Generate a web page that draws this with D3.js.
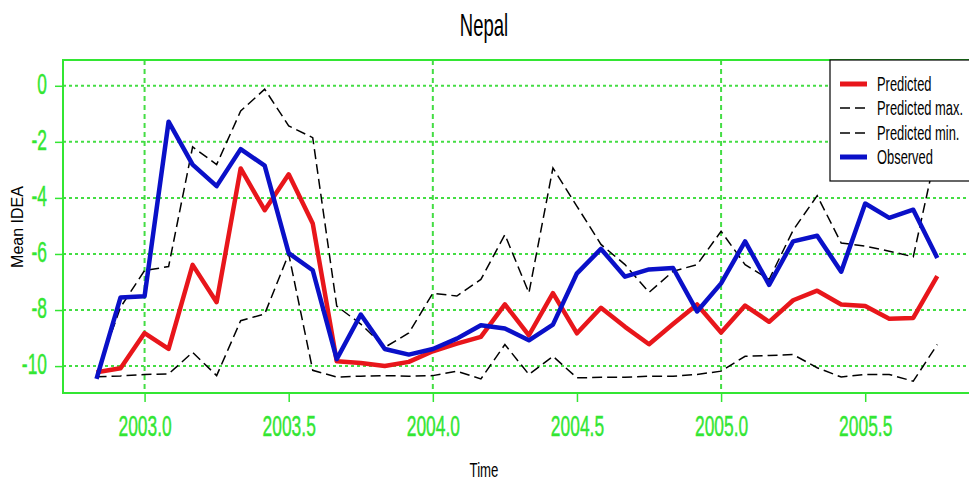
<!DOCTYPE html>
<html>
<head>
<meta charset="utf-8">
<script src="https://cdn.jsdelivr.net/npm/d3@7"></script>
<style>
  html, body { margin: 0; padding: 0; background: #fff; }
  svg { display: block; }
  text { font-family: "Liberation Sans", Arial, Helvetica, sans-serif; }
</style>
</head>
<body>
<svg id="chart" width="969" height="481"></svg>
<script>
// Monthly series, Nov 2002 – Oct 2005
const startYear = 2002, startMonth = 11, frequency = 12;

const observed = [-10.46, -7.55, -7.51, -1.28, -2.81, -3.58, -2.26, -2.85, -5.97, -6.58,
  -9.75, -8.16, -9.39, -9.59, -9.39, -9.02, -8.54, -8.66, -9.08, -8.52,
  -6.69, -5.82, -6.81, -6.55, -6.50, -8.05, -7.05, -5.55, -7.10, -5.55,
  -5.35, -6.63, -4.20, -4.71, -4.42, -6.14];

const predicted = [-10.22, -10.08, -8.82, -9.39, -6.39, -7.72, -2.95, -4.44, -3.16, -4.91,
  -9.83, -9.89, -10.00, -9.85, -9.47, -9.20, -8.96, -7.80, -8.90, -7.40,
  -8.83, -7.92, -8.60, -9.22, -8.50, -7.80, -8.80, -7.84, -8.42, -7.65,
  -7.31, -7.80, -7.86, -8.31, -8.28, -6.79];

const predictedMax = [-10.30, -7.90, -6.59, -6.45, -2.18, -2.81, -0.90, -0.12, -1.43, -1.85,
  -7.86, -8.50, -9.33, -8.82, -7.40, -7.50, -6.91, -5.31, -7.39, -2.93,
  -4.30, -5.66, -6.38, -7.37, -6.62, -6.38, -5.19, -6.38, -6.91, -5.15,
  -3.92, -5.61, -5.72, -5.90, -6.10, -2.20];

const predictedMin = [-10.38, -10.35, -10.30, -10.28, -9.51, -10.34, -8.38, -8.14, -6.00, -10.15,
  -10.39, -10.36, -10.34, -10.36, -10.34, -10.18, -10.46, -9.23, -10.30, -9.65,
  -10.42, -10.40, -10.40, -10.36, -10.36, -10.30, -10.18, -9.65, -9.62, -9.59,
  -10.06, -10.39, -10.30, -10.30, -10.54, -9.23];

const xTicks = [2003.0, 2003.5, 2004.0, 2004.5, 2005.0, 2005.5];
const xGrid = [2003, 2004, 2005];
const yTicks = [0, -2, -4, -6, -8, -10];

const legendLabels = ["Predicted", "Predicted max.", "Predicted min.", "Observed"];

const time = observed.map((_, i) => startYear + (startMonth - 1 + i) / frequency);

const GREEN = "#33e633";
const GRID = "#44dd44";
const RED = "#e8161b";
const BLUE = "#0a10c8";

const svg = d3.select("#chart");

const x = d3.scaleLinear().domain([2002.717, 2005.867]).range([63, 971]);
const y = d3.scaleLinear().domain([-10.96, 0.92]).range([393, 60]);

// grid
svg.append("g").selectAll("line").data(yTicks).join("line")
  .attr("x1", 63).attr("x2", 971)
  .attr("y1", d => y(d)).attr("y2", d => y(d))
  .attr("stroke", GRID).attr("stroke-width", 2).attr("stroke-dasharray", "3,3");
svg.append("g").selectAll("line").data(xGrid).join("line")
  .attr("x1", d => x(d)).attr("x2", d => x(d))
  .attr("y1", 60).attr("y2", 393)
  .attr("stroke", GRID).attr("stroke-width", 2).attr("stroke-dasharray", "5,4");

// series
const line = vals => d3.line().x((d, i) => x(time[i])).y(d => y(d))(vals);

svg.append("path").attr("d", line(predicted))
  .attr("fill", "none").attr("stroke", RED).attr("stroke-width", 4.5).attr("stroke-linejoin", "round");
svg.append("path").attr("d", line(predictedMax))
  .attr("fill", "none").attr("stroke", "#000").attr("stroke-width", 1.5).attr("stroke-dasharray", "10,5");
svg.append("path").attr("d", line(predictedMin))
  .attr("fill", "none").attr("stroke", "#000").attr("stroke-width", 1.5).attr("stroke-dasharray", "10,5");
svg.append("path").attr("d", line(observed))
  .attr("fill", "none").attr("stroke", BLUE).attr("stroke-width", 4.5).attr("stroke-linejoin", "round");

// axes
const xAxis = svg.append("g").attr("transform", "translate(0,393)")
  .call(d3.axisBottom(x).tickValues(xTicks).tickSize(9).tickFormat(d3.format(".1f")));
const yAxis = svg.append("g").attr("transform", "translate(63,0)")
  .call(d3.axisLeft(y).tickValues(yTicks).tickSize(8).tickFormat(d => d));

[xAxis, yAxis].forEach(a => {
  a.select(".domain").remove();
  a.selectAll(".tick line").attr("stroke", GREEN).attr("stroke-width", 1.5);
  a.selectAll(".tick text").attr("fill", GREEN).attr("font-size", 20)
    .attr("font-family", "'Liberation Sans', Arial, sans-serif")
    .attr("stroke", GREEN).attr("stroke-width", 0.3);
});
xAxis.selectAll(".tick text")
  .attr("y", 0).attr("dy", 0)
  .attr("transform", "translate(0,43) scale(0.87,1.45)");
yAxis.selectAll(".tick text")
  .attr("x", 0).attr("dy", 0)
  .attr("transform", "translate(-16,7.5) scale(0.87,1.45)");

// plot frame
svg.append("rect").attr("x", 63).attr("y", 60).attr("width", 908).attr("height", 333)
  .attr("fill", "none").attr("stroke", GREEN).attr("stroke-width", 2);

// title and axis labels
svg.append("text").attr("transform", "translate(484,36) scale(0.88,1.45)")
  .attr("text-anchor", "middle").attr("font-size", 21).text("Nepal");
svg.append("text").attr("transform", "translate(484,477) scale(0.88,1.4)")
  .attr("text-anchor", "middle").attr("font-size", 15).text("Time");
svg.append("text").attr("transform", "translate(23,227) rotate(-90)")
  .attr("text-anchor", "middle").attr("font-size", 16).text("Mean IDEA");

// legend
const lg = svg.append("g");
lg.append("rect").attr("x", 830).attr("y", 60).attr("width", 145).attr("height", 121)
  .attr("fill", "#fff").attr("stroke", "#000").attr("stroke-width", 1.2);
const legendStyle = [
  { color: RED, width: 5, dash: null },
  { color: "#000", width: 1.5, dash: "10,5" },
  { color: "#000", width: 1.5, dash: "10,5" },
  { color: BLUE, width: 5, dash: null }
];
const rowY = [84, 108, 133, 157];
legendLabels.forEach((lab, i) => {
  const s = legendStyle[i];
  lg.append("line").attr("x1", 840).attr("x2", 867).attr("y1", rowY[i]).attr("y2", rowY[i])
    .attr("stroke", s.color).attr("stroke-width", s.width)
    .attr("stroke-dasharray", s.dash);
  lg.append("text").attr("transform", `translate(877,${rowY[i] + 6.5}) scale(0.86,1.35)`)
    .attr("font-size", 15).attr("fill", "#000").text(lab);
});
</script>
</body>
</html>
